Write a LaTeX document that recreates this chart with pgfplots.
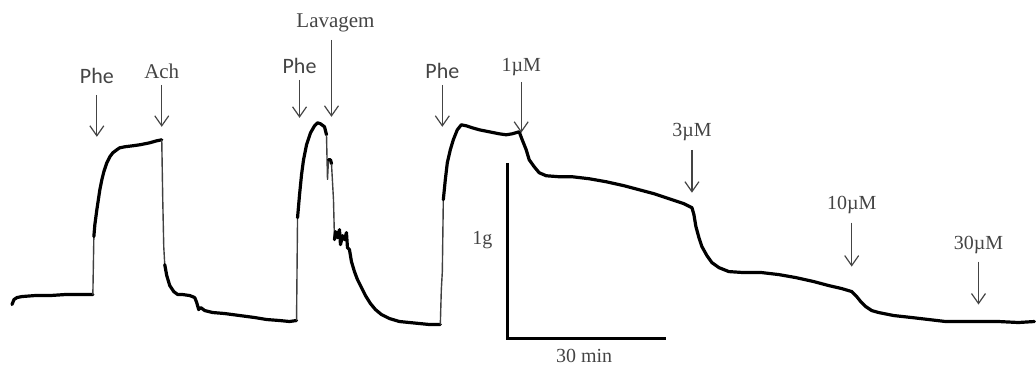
\documentclass[border=0pt]{standalone}
\usepackage{pgfplots}
\pgfplotsset{compat=1.18}
\usepackage{fontspec}
\setmainfont{Liberation Serif}
\newfontfamily\phefont{Carlito}
\usetikzlibrary{arrows.meta}
\definecolor{txt}{HTML}{444444}
\begin{document}
\begin{tikzpicture}
\begin{axis}[
  scale only axis, width=518pt, height=181.5pt,
  xmin=0, xmax=1036, ymin=0, ymax=363, y dir=reverse,
  axis lines=none, clip=false,
]
\path (axis cs:0,0) rectangle (axis cs:1036,363);
\pgfplotsset{thick trace/.style={black, line width=1.6pt, line join=round, line cap=round},
             thin trace/.style={black!75, line width=0.7pt}}
% trace: thick parts
\addplot[thick trace] coordinates {
(12,305) (14,300) (17,298) (22,297) (35,296) (50,296) (65,295) (80,295) (93,295)};
\addplot[thin trace] coordinates {(93,295) (94,237)};
\addplot[thick trace] coordinates {
(94,237) (95,225) (97,210) (100,190) (102,180) (104,172) (107,163) (110,157) (113,153) (117,150) (120,148) (125,147) (133,146) (140,145) (150,143) (157,141) (162,140)};
\addplot[thin trace] coordinates {(162,140) (163,200) (164,247) (165,265)};
\addplot[thick trace] coordinates {
(165,265) (167,276) (170,286) (174,292) (178,295) (183,295) (190,296) (195,298) (197,303) (199,310) (201,308) (205,311) (213,313) (225,314) (240,316) (255,318) (267,320) (280,321) (290,322) (297,321)};
\addplot[thin trace] coordinates {(297,321) (298,218)};
\addplot[thick trace] coordinates {
(298,218) (300,195) (302,175) (304,160) (307,145) (311,133) (315,126) (318,123) (321,124) (325,127) (327,135)};
\addplot[thin trace] coordinates {(327,135) (328,180) (329,160)};
\addplot[thick trace] coordinates {(329,160) (331,160) (332,164)};
\addplot[thin trace] coordinates {(332,164) (334,200) (335,240)};
\addplot[thick trace] coordinates {
(335,240) (336,232) (338,238) (340,230) (341,245) (343,236) (345,240) (347,233) (348,248) (350,250) (352,262) (355,272) (358,280) (362,288) (366,296) (371,304) (376,310) (382,315) (390,319) (400,322) (410,323) (420,324) (430,325) (441,325)};
\addplot[thin trace] coordinates {(441,325) (442,290) (443,272) (444,200)};
\addplot[thick trace] coordinates {
(444,200) (446,180) (448,163) (451,150) (454,140) (458,130) (462,125) (467,126) (473,128) (480,130) (490,132) (500,134) (507,135) (513,134) (520,132) (523,140) (527,150) (530,160) (535,167) (540,173) (547,176) (560,177) (573,177) (590,179) (607,182) (625,186) (640,190) (655,194) (673,200) (685,204) (693,208)
(695,215) (697,227) (700,238) (703,247) (708,256) (713,263) (720,268) (730,272) (745,273) (763,273) (780,275) (797,278) (815,282) (830,286) (843,289) (853,292) (858,297) (862,302) (867,307) (873,311) (880,313) (895,316) (913,318) (930,320) (947,322) (965,322) (980,322) (1000,322) (1020,323) (1036,322)
};
% scale bar
\addplot[black, line width=1.5pt] coordinates {(508,163) (508,339) (667,339)};
\node[txt, font=\fontsize{10}{12}\selectfont] at (axis cs:483,240) {1g};
\node[txt, font=\fontsize{10}{12}\selectfont] at (axis cs:585,356) {30 min};
% arrows
\tikzset{arr/.style={txt, line width=0.6pt, -{Straight Barb[length=5pt,width=7pt]}}}
\draw[arr] (axis cs:97,95) -- (axis cs:97,137);
\node[txt, font=\phefont\fontsize{11}{13}\selectfont] at (axis cs:97,76) {Phe};
\draw[arr] (axis cs:162,85) -- (axis cs:162,127);
\node[txt, font=\fontsize{10.5}{12}\selectfont] at (axis cs:162,71) {Ach};
\draw[arr] (axis cs:300,80) -- (axis cs:300,118);
\node[txt, font=\phefont\fontsize{11}{13}\selectfont] at (axis cs:300,66) {Phe};
\draw[arr] (axis cs:332,40) -- (axis cs:332,117);
\node[txt, font=\fontsize{10.5}{12}\selectfont] at (axis cs:336,23) {Lavagem};
\draw[arr] (axis cs:443,85) -- (axis cs:443,127);
\node[txt, font=\phefont\fontsize{11}{13}\selectfont] at (axis cs:443,71) {Phe};
\draw[arr] (axis cs:522,82) -- (axis cs:522,133);
\node[txt, font=\fontsize{10}{12}\selectfont] at (axis cs:522,67) {1µM};
\draw[arr] (axis cs:693,150) -- (axis cs:693,193);
\node[txt, font=\fontsize{10}{12}\selectfont] at (axis cs:693,132) {3µM};
\draw[arr] (axis cs:853,223) -- (axis cs:853,267);
\node[txt, font=\fontsize{10}{12}\selectfont] at (axis cs:853,205) {10µM};
\draw[arr] (axis cs:980,262) -- (axis cs:980,305);
\node[txt, font=\fontsize{10}{12}\selectfont] at (axis cs:980,245) {30µM};
\end{axis}
\end{tikzpicture}
\end{document}
